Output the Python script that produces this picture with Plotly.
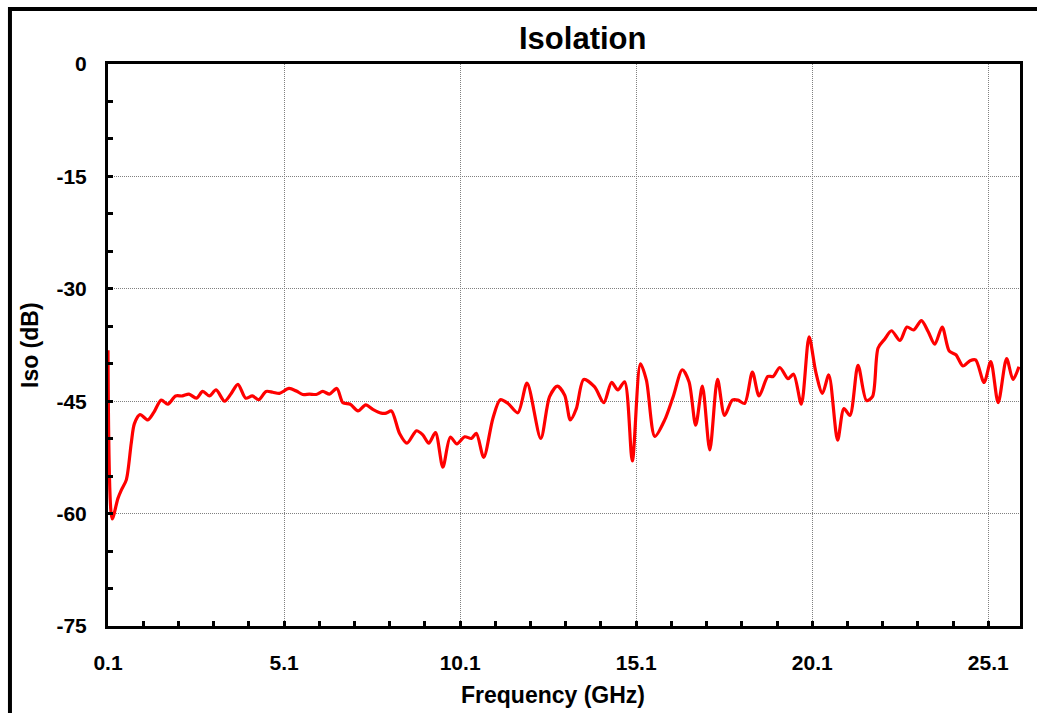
import plotly.graph_objects as go

freq_ghz = [0.1, 0.22, 0.38, 0.475, 0.62, 0.76, 0.85, 1.01, 1.23, 1.40, 1.61, 1.80, 2.02, 2.21, 2.40,
            2.61, 2.79, 2.98, 3.17, 3.41, 3.60, 3.79, 4.01, 4.20, 4.38, 4.59, 4.78, 4.97, 5.24, 5.45,
            5.63, 5.82, 6.01, 6.20, 6.39, 6.6, 6.77, 6.98, 7.2, 7.42, 7.62, 7.86, 8.0, 8.15, 8.38,
            8.59, 8.86, 9.04, 9.21, 9.40, 9.61, 9.82, 10.01, 10.23, 10.42, 10.56, 10.77, 11.03, 11.24,
            11.46, 11.74, 12.0, 12.39, 12.64, 12.86, 13.07, 13.23, 13.4, 13.61, 13.92, 14.18, 14.4,
            14.58, 14.77, 14.99, 15.22, 15.39, 15.63, 15.91, 16.15, 16.41, 16.6, 16.79, 16.98, 17.19,
            17.41, 17.61, 17.83, 17.99, 18.18, 18.4, 18.59, 18.84, 18.99, 19.18, 19.41, 19.57, 19.79,
            20.01, 20.2, 20.39, 20.57, 20.82, 21.0, 21.17, 21.4, 21.64, 21.81, 21.97, 22.16, 22.35,
            22.59, 22.79, 22.98, 23.2, 23.39, 23.58, 23.79, 23.99, 24.18, 24.38, 24.58, 24.74, 24.98,
            25.17, 25.38, 25.62, 25.8, 25.97]

iso_db = [-38.2, -60.7, -58.0, -56.9, -55.5, -50.6, -48.0, -46.8, -47.5, -46.5, -44.85, -45.4, -44.3,
          -44.3, -44.05, -44.6, -43.7, -44.3, -43.5, -45.0, -43.96, -42.75, -44.6, -44.3, -44.8, -43.7,
          -43.8, -43.96, -43.3, -43.65, -44.1, -44.05, -44.1, -43.7, -44.05, -43.3, -45.2, -45.4, -46.3,
          -45.5, -46.1, -46.6, -46.6, -46.3, -49.3, -50.6, -48.95, -49.5, -50.6, -49.2, -53.8, -49.8,
          -50.7, -49.75, -49.97, -49.3, -52.5, -47.3, -44.8, -45.3, -46.55, -42.6, -49.97, -44.4, -43.0,
          -44.2, -47.5, -46.0, -42.1, -43.1, -45.2, -42.5, -43.5, -42.4, -52.97, -40.0, -42.2, -49.7,
          -47.5, -44.4, -40.8, -42.4, -48.2, -43.0, -51.5, -42.1, -46.9, -44.85, -44.85, -45.3, -41.1,
          -44.3, -41.7, -41.7, -40.5, -42.0, -41.4, -45.4, -36.4, -41.1, -43.96, -41.5, -50.2, -45.97,
          -46.9, -40.2, -44.9, -44.4, -37.9, -36.7, -35.6, -36.9, -35.1, -35.5, -34.25, -35.7, -37.4,
          -35.1, -38.3, -38.8, -40.3, -39.6, -39.5, -42.5, -39.7, -45.2, -39.3, -42.1, -40.4]

x_tickvals = [0.1, 5.1, 10.1, 15.1, 20.1, 25.1]
y_tickvals = [0, -15, -30, -45, -60, -75]

FONT = "Arial, Liberation Sans, sans-serif"

fig = go.Figure()
fig.add_trace(go.Scatter(
    x=freq_ghz, y=iso_db, mode="lines",
    line=dict(color="#ff0000", width=3.2, shape="spline", smoothing=0.8),
    showlegend=False, hoverinfo="x+y",
))

axis_common = dict(
    showline=True, linecolor="black", linewidth=3, mirror=True,
    ticks="inside", ticklen=5, tickwidth=3, tickcolor="black",
    showgrid=True, gridcolor="#808080", gridwidth=1, griddash="1px,1px",
    zeroline=False,
    tickfont=dict(family=FONT, size=21, color="black", weight="bold"),
)

fig.update_xaxes(
    range=[0.1, 26.0], tickmode="array", tickvals=x_tickvals,
    ticktext=[str(v) for v in x_tickvals],
    minor=dict(dtick=1, tick0=0.1, ticks="inside", ticklen=5, tickwidth=3,
               tickcolor="black", showgrid=False),
    ticklabelstandoff=16,
    **axis_common,
)
fig.update_yaxes(
    range=[-75, 0], tickmode="array", tickvals=y_tickvals,
    ticktext=[str(v) for v in y_tickvals],
    minor=dict(dtick=5, tick0=0, ticks="inside", ticklen=5, tickwidth=3,
               tickcolor="black", showgrid=False),
    ticklabelstandoff=14,
    **axis_common,
)

fig.update_layout(
    width=1037, height=713,
    margin=dict(l=108, r=17, t=64, b=87),
    paper_bgcolor="white", plot_bgcolor="white",
    font=dict(family=FONT, color="black"),
    shapes=[dict(type="rect", xref="paper", yref="paper",
                 x0=-0.1075, x1=1.1, y0=-0.3, y1=1.098,
                 line=dict(color="black", width=4), layer="above")],
    annotations=[
        dict(text="Isolation", xref="paper", yref="paper", x=(582 - 108) / 912, y=(626 - 38) / 562,
             xanchor="center", yanchor="middle", showarrow=False,
             font=dict(family=FONT, size=31, color="black", weight="bold")),
        dict(text="Frequency (GHz)", xref="paper", yref="paper", x=(553 - 108) / 912,
             y=(626 - 695) / 562, xanchor="center", yanchor="middle", showarrow=False,
             font=dict(family=FONT, size=23, color="black", weight="bold")),
        dict(text="Iso (dB)", xref="paper", yref="paper", x=(30 - 108) / 912,
             y=(626 - 345) / 562, xanchor="center", yanchor="middle", showarrow=False,
             textangle=-90,
             font=dict(family=FONT, size=23, color="black", weight="bold")),
    ],
)

fig.write_html("out.html")
